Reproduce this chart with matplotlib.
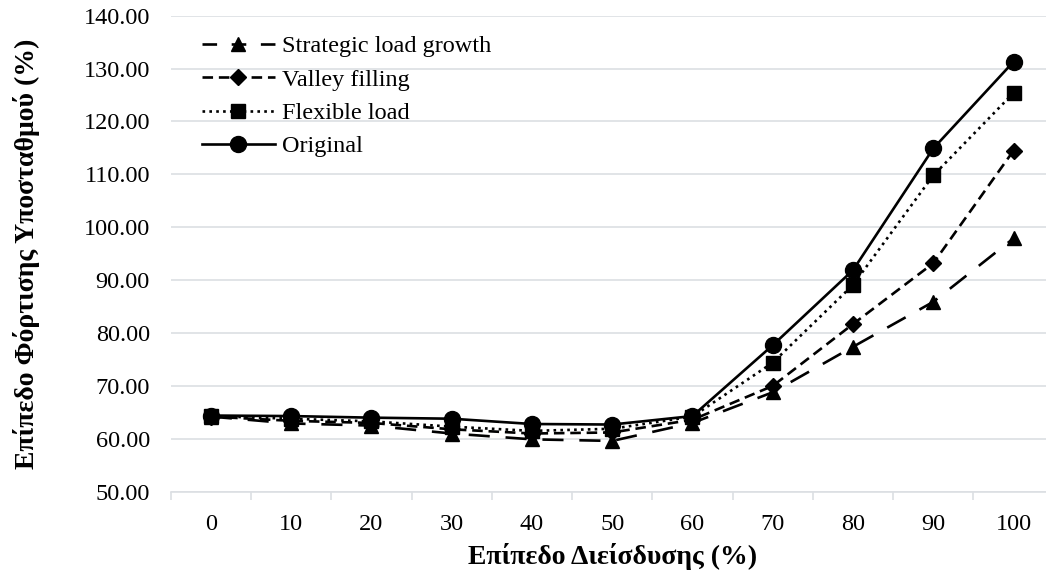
import numpy as np
import matplotlib
matplotlib.use("Agg")
import matplotlib.pyplot as plt
from matplotlib.ticker import FixedLocator, FormatStrFormatter

# penetration level (%) - categories on the x axis
levels = [0, 10, 20, 30, 40, 50, 60, 70, 80, 90, 100]

# substation loading (%) per scenario
strategic = [64.2, 62.9, 62.5, 61.0, 59.9, 59.6, 63.0, 68.8, 77.4, 85.9, 97.9]
valley = [64.2, 63.4, 63.0, 61.8, 61.0, 61.2, 63.6, 70.0, 81.7, 93.2, 114.5]
flexible = [64.3, 63.8, 63.3, 62.3, 61.5, 61.9, 64.2, 74.4, 89.1, 109.8, 125.4]
original = [64.4, 64.3, 64.0, 63.8, 62.8, 62.7, 64.3, 77.7, 91.9, 114.9, 131.3]

plt.rcParams['font.family'] = ['Liberation Serif', 'DejaVu Serif']

fig = plt.figure(figsize=(10.46, 5.78), dpi=100)
# plot area spills a little past the right edge, as in the reference
ax = fig.add_axes([170.7 / 1046, 1 - 491.7 / 578, 883.0 / 1046, 476.0 / 578])

xpos = np.arange(len(levels))
lw = 1.9

ax.plot(xpos, strategic, color='black', lw=lw, dashes=(8, 6), marker='^', ms=10,
        label='Strategic load growth')
ax.plot(xpos, valley, color='black', lw=lw, dashes=(4, 2.2), marker='D', ms=8,
        label='Valley filling')
ax.plot(xpos, flexible, color='black', lw=lw, dashes=(1, 1.6), marker='s', ms=10,
        label='Flexible load')
ax.plot(xpos, original, color='black', lw=lw, marker='o', ms=11.5,
        label='Original')

# axes
ax.set_xlim(-0.5, len(levels) - 0.5)
ax.set_ylim(50, 140)
ax.set_yticks(np.arange(50, 141, 10))
ax.yaxis.set_major_formatter(FormatStrFormatter('%.2f'))
ax.set_xticks(xpos)
ax.set_xticklabels([str(v) for v in levels])
ax.xaxis.set_minor_locator(FixedLocator(np.arange(-0.5, len(levels), 1.0)))

grid_col = '#dcdfe3'
ax.grid(axis='y', color=grid_col, lw=1.2)
ax.set_axisbelow(True)
for side in ['top', 'right', 'left']:
    ax.spines[side].set_visible(False)
ax.spines['bottom'].set_color(grid_col)
ax.spines['bottom'].set_linewidth(1.2)

ax.tick_params(axis='y', length=0, pad=15, labelsize=17.5)
ax.tick_params(axis='x', which='major', length=0, pad=16, labelsize=17.5)
ax.tick_params(axis='x', which='minor', length=6, width=1.2, color=grid_col)

ax.set_xlabel('Επίπεδο Διείσδυσης (%)', fontsize=20, fontweight='bold', labelpad=6)
ax.set_ylabel('Επίπεδο Φόρτισης Υποσταθμού (%)', fontsize=20, fontweight='bold',
              labelpad=31)

leg = ax.legend(loc='upper left', bbox_to_anchor=(0.013, 1.0), frameon=False,
                fontsize=17.5, handlelength=3.0, handletextpad=0.3,
                labelspacing=0.47, borderpad=0.3)
# shorter dash in the legend key so it ends on a dash next to the text
leg.get_lines()[0].set_dashes((5.53, 5.53))

plt.savefig('out.png', dpi=100)
